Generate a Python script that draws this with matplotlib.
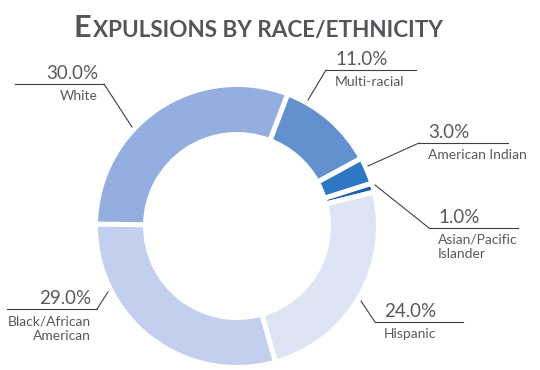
import matplotlib.pyplot as plt

# data
categories = ['Multi-racial', 'American Indian', 'Asian/Pacific\nIslander',
              'Hispanic', 'Black/African\nAmerican', 'White']
values = [11.0, 3.0, 1.0, 24.0, 29.0, 30.0]
colors = ['#6391d0', '#2e77c4', '#1f5fae', '#dde5f5', '#c3cfee', '#93aedf']

# label layout, in pixels: leader tip, elbow, end of the rule, side of text
tips = [(308, 100), (368, 166), (375, 185), (361, 301), (108, 292), (132, 127)]
elbows = [(326, 70), (419, 143), (429, 228), (375, 322), (97, 309), (104, 84)]
rule_ends = [416, 508, 518, 463, 7, 15]
sides = ['right', 'right', 'right', 'right', 'left', 'left']

fig = plt.figure(figsize=(5.4, 3.7), dpi=100)
ax = fig.add_axes([0, 0, 1, 1])

ax.pie(values, colors=colors, startangle=-69, counterclock=True,
       radius=141.5, center=(237, 226), frame=True,
       wedgeprops=dict(width=50, edgecolor='white', linewidth=3.6))

ax.set_xlim(0, 540)
ax.set_ylim(370, 0)
ax.axis('off')

line_kw = dict(color='#404040', lw=0.8)
for cat, val, tip, elb, end, side in zip(categories, values, tips, elbows,
                                         rule_ends, sides):
    ax.plot([tip[0], elb[0]], [tip[1], elb[1]], **line_kw)
    ax.plot([elb[0], end], [elb[1], elb[1]], **line_kw)
    if side == 'right':
        tx, ha = elb[0] + 9, 'left'
    else:
        tx, ha = elb[0] - 6, 'right'
    ax.text(tx, elb[1] - 5, f'{val:.1f}%', ha=ha, va='baseline',
            fontsize=13.5, family='Lato', color='#595959')
    ax.text(tx, elb[1] + 6, cat, ha=ha, va='top', fontsize=10,
            family='Lato', color='#595959', linespacing=1.25)

# title in small caps: a big first letter, then the rest smaller
title_kw = dict(family='Lato', weight='bold', color='#555459', va='baseline')
t1 = fig.text(74 / 540, 1 - 37 / 370, 'E', fontsize=22, **title_kw)
fig.canvas.draw()
bb = t1.get_window_extent()
fig.text(bb.x1 / 540 + 1 / 540, 1 - 37 / 370, 'XPULSIONS BY RACE/ETHNICITY',
         fontsize=16.2, **title_kw)

fig.savefig('out.png', dpi=100)
